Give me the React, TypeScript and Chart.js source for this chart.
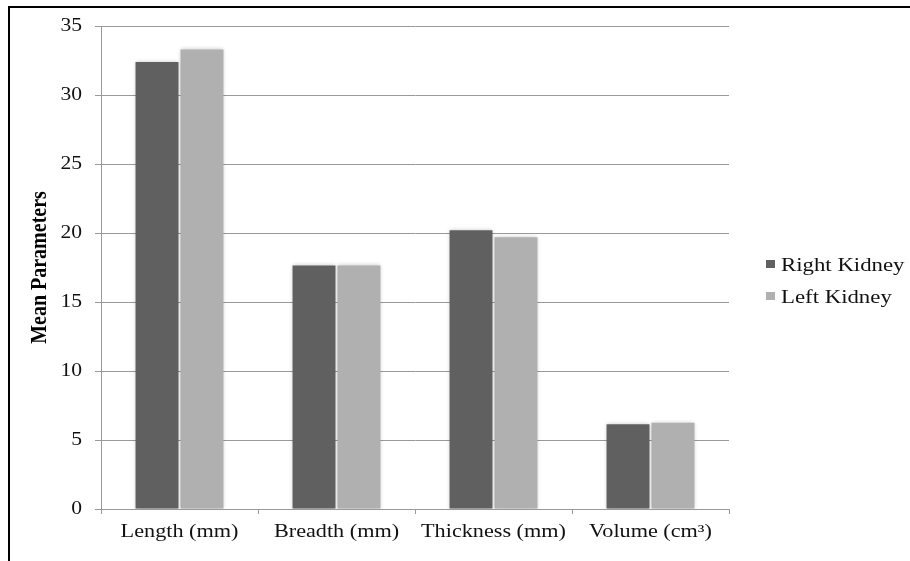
import React, { useEffect, useRef } from "react";
import { Chart, registerables } from "chart.js";

Chart.register(...registerables);

const categories = ["Length (mm)", "Breadth (mm)", "Thickness (mm)", "Volume (cm³)"];
const rightKidney = [32.4, 17.65, 20.2, 6.15];
const leftKidney = [33.3, 17.65, 19.7, 6.25];
const seriesNames = ["Right Kidney", "Left Kidney"];
const seriesColors = ["#606060", "#b0b0b0"];
const yTitle = "Mean Parameters";
const yMax = 35;
const yStep = 5;

const FONT = "'Liberation Serif', 'Times New Roman', serif";
const SX = 1.2; // horizontal stretch of the reference's text

function stretchText(ctx: any) {
  if (ctx.__stretched) return;
  ctx.__stretched = true;
  const origFill = ctx.fillText.bind(ctx);
  const origMeasure = ctx.measureText.bind(ctx);
  ctx.fillText = (text: string, x: number, y: number, maxWidth?: number) => {
    const m = ctx.getTransform();
    const p = m.transformPoint(new DOMPoint(x, y));
    ctx.save();
    const nm = new DOMMatrix().translate(p.x, p.y).scale(SX, 1).translate(-p.x, -p.y).multiply(m);
    ctx.setTransform(nm);
    if (maxWidth !== undefined) origFill(text, x, y, maxWidth);
    else origFill(text, x, y);
    ctx.restore();
  };
  ctx.measureText = (text: string) => {
    const r = origMeasure(text);
    return {
      width: r.width * SX,
      actualBoundingBoxAscent: r.actualBoundingBoxAscent,
      actualBoundingBoxDescent: r.actualBoundingBoxDescent,
      actualBoundingBoxLeft: r.actualBoundingBoxLeft * SX,
      actualBoundingBoxRight: r.actualBoundingBoxRight * SX,
      fontBoundingBoxAscent: r.fontBoundingBoxAscent,
      fontBoundingBoxDescent: r.fontBoundingBoxDescent,
    };
  };
}

const legendPlugin = {
  id: "customLegend",
  afterDraw(chart: any) {
    const ctx = chart.ctx;
    ctx.save();
    ctx.font = `19px ${FONT}`;
    ctx.textBaseline = "alphabetic";
    ctx.textAlign = "left";
    const ys = [264, 296];
    chart.data.datasets.forEach((ds: any, i: number) => {
      const y = ys[i];
      ctx.fillStyle = ds.backgroundColor;
      ctx.fillRect(766, y - 4, 9, 8);
      ctx.fillStyle = "#111";
      ctx.fillText(ds.label, 781, y + 6.5);
    });
    ctx.restore();
  },
};

const shadowPlugin = {
  id: "barShadow",
  beforeDatasetsDraw(chart: any) {
    const ctx = chart.ctx;
    ctx.save();
    ctx.shadowColor = "rgba(0,0,0,0.22)";
    ctx.shadowBlur = 4;
    ctx.shadowOffsetX = 0;
    ctx.shadowOffsetY = 0;
  },
  afterDatasetsDraw(chart: any) {
    chart.ctx.restore();
  },
};

export default function App() {
  const ref = useRef<HTMLCanvasElement | null>(null);
  useEffect(() => {
    if (!ref.current) return;
    const c2d = ref.current.getContext("2d");
    stretchText(c2d);
    const chart = new Chart(ref.current, {
      type: "bar",
      data: {
        labels: categories,
        datasets: [
          {
            label: seriesNames[0],
            data: rightKidney,
            backgroundColor: seriesColors[0],
            borderWidth: 0,
            categoryPercentage: 0.573,
            barPercentage: 0.955,
          },
          {
            label: seriesNames[1],
            data: leftKidney,
            backgroundColor: seriesColors[1],
            borderWidth: 0,
            categoryPercentage: 0.573,
            barPercentage: 0.955,
          },
        ],
      },
      options: {
        responsive: false,
        animation: false,
        devicePixelRatio: 1,
        layout: { padding: { left: 26, top: 26, right: 181, bottom: 0 } },
        plugins: {
          legend: { display: false },
          tooltip: { enabled: false },
        },
        scales: {
          x: {
            offset: true,
            grid: {
              display: true,
              offset: true,
              drawOnChartArea: false,
              drawTicks: true,
              tickLength: 5,
              color: "#999999",
            },
            border: { display: true, color: "#999999" },
            ticks: {
              color: "#111",
              font: { family: FONT, size: 18.5 },
              padding: 7,
              maxRotation: 0,
              autoSkip: false,
            },
            afterFit(scale: any) {
              scale.height = 52;
            },
          },
          y: {
            min: 0,
            max: yMax,
            ticks: {
              stepSize: yStep,
              color: "#111",
              font: { family: FONT, size: 18 },
              padding: 13,
            },
            grid: {
              color: "#999999",
              tickLength: 6,
            },
            border: { display: true, color: "#999999" },
            title: {
              display: true,
              text: yTitle,
              color: "#000",
              font: { family: FONT, size: 20, weight: "bold" },
              padding: { top: 2, bottom: 0 },
            },
            afterFit(scale: any) {
              scale.width = 75;
            },
          },
        },
      },
      plugins: [shadowPlugin, legendPlugin],
    } as any);
    return () => chart.destroy();
  }, []);

  return (
    <div style={{ position: "absolute", left: 0, top: 0, width: 910, height: 561, background: "#fff", overflow: "hidden" }}>
      <div
        style={{
          position: "absolute",
          left: 8,
          top: 6,
          width: 1000,
          height: 1000,
          borderLeft: "2px solid #000",
          borderTop: "2px solid #000",
        }}
      />
      <canvas ref={ref} width={910} height={561} style={{ position: "absolute", left: 0, top: 0, width: 910, height: 561 }} />
    </div>
  );
}
